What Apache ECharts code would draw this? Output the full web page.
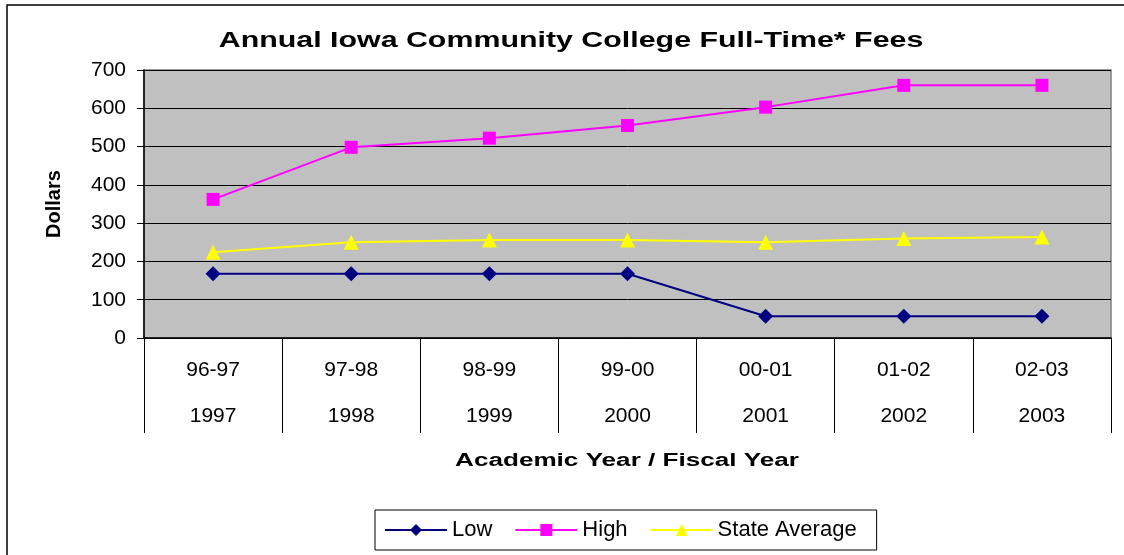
<!DOCTYPE html>
<html>
<head>
<meta charset="utf-8">
<title>Annual Iowa Community College Full-Time* Fees</title>
<script src="https://cdn.jsdelivr.net/npm/echarts@6/dist/echarts.min.js"></script>
<style>
  html, body { margin: 0; padding: 0; background: #fff; }
  #chart { width: 1124px; height: 555px; }
</style>
</head>
<body>
<div id="chart"></div>
<script>
// academic year / fiscal year
const academicYears = ['96-97', '97-98', '98-99', '99-00', '00-01', '01-02', '02-03']
const fiscalYears = ['1997', '1998', '1999', '2000', '2001', '2002', '2003']

// fees in dollars
const lowFees = [168, 168, 168, 168, 57, 57, 57]
const highFees = [362, 498, 522, 555, 603, 660, 660]
const stateAverage = [224, 250, 256, 256, 250, 260, 264]

const categories = academicYears.map((a, i) => a + '\n' + fiscalYears[i])

const chart = echarts.init(document.getElementById('chart'))
const font = 'Liberation Sans, Arial, sans-serif'

const option = {
  backgroundColor: '#fff',
  animation: false,
  textStyle: { fontFamily: font },
  graphic: [
    {
      // outer chart frame
      type: 'rect',
      shape: { x: 7, y: 5, width: 1140, height: 570 },
      style: { fill: 'none', stroke: '#000', lineWidth: 1.5 },
      silent: true,
      z: -1,
    },
    {
      // title (the original font is drawn wide)
      type: 'text',
      x: 571,
      y: 41,
      scaleX: 1.38,
      style: {
        text: 'Annual Iowa Community College Full-Time* Fees',
        fontSize: 22,
        fontWeight: 'bold',
        fontFamily: font,
        fill: '#000',
        align: 'center',
        verticalAlign: 'middle',
      },
    },
    {
      // x axis name
      type: 'text',
      x: 627,
      y: 461,
      scaleX: 1.45,
      style: {
        text: 'Academic Year / Fiscal Year',
        fontSize: 18,
        fontWeight: 'bold',
        fontFamily: font,
        fill: '#000',
        align: 'center',
        verticalAlign: 'middle',
      },
    },
  ],
  grid: {
    left: 144,
    right: 13,
    top: 70,
    bottom: 217,
    show: true,
    backgroundColor: '#c0c0c0',
    borderColor: '#808080',
    borderWidth: 1.5,
  },
  legend: {
    left: 375,
    top: 510,
    itemWidth: 62,
    itemHeight: 15,
    itemGap: 22,
    padding: [9, 20, 9, 9],
    borderColor: '#000',
    borderWidth: 1,
    textStyle: { fontSize: 22, color: '#000', fontFamily: font },
    data: ['Low', 'High', 'State Average'],
  },
  xAxis: {
    type: 'category',
    data: categories,
    boundaryGap: true,
    axisLine: { lineStyle: { color: '#000', width: 1.5 } },
    axisTick: { show: true, length: 95, interval: 0, lineStyle: { color: '#000' } },
    axisLabel: {
      interval: 0,
      margin: 9,
      fontSize: 21,
      lineHeight: 46,
      color: '#000',
      fontFamily: font,
    },
  },
  yAxis: {
    type: 'value',
    min: 0,
    max: 700,
    interval: 100,
    name: 'Dollars',
    nameLocation: 'middle',
    nameRotate: 90,
    nameGap: 80,
    nameTextStyle: { fontSize: 20, fontWeight: 'bold', color: '#000', fontFamily: font },
    axisLine: { show: true, lineStyle: { color: '#000', width: 1.5 } },
    axisTick: { show: true, length: 7, lineStyle: { color: '#000' } },
    axisLabel: { fontSize: 21, color: '#000', margin: 18, fontFamily: font },
    splitLine: { lineStyle: { color: '#000', width: 1 } },
  },
  series: [
    {
      name: 'Low',
      type: 'line',
      data: lowFees,
      symbol: 'diamond',
      symbolSize: 15,
      lineStyle: { color: '#000080', width: 2 },
      itemStyle: { color: '#000080' },
    },
    {
      name: 'High',
      type: 'line',
      data: highFees,
      symbol: 'rect',
      symbolSize: 13,
      lineStyle: { color: '#ff00ff', width: 2 },
      itemStyle: { color: '#ff00ff' },
    },
    {
      name: 'State Average',
      type: 'line',
      data: stateAverage,
      symbol: 'triangle',
      symbolSize: 15,
      lineStyle: { color: '#ffff00', width: 2 },
      itemStyle: { color: '#ffff00' },
    },
  ],
}

chart.setOption(option)
window.addEventListener('resize', () => chart.resize())
</script>
</body>
</html>
